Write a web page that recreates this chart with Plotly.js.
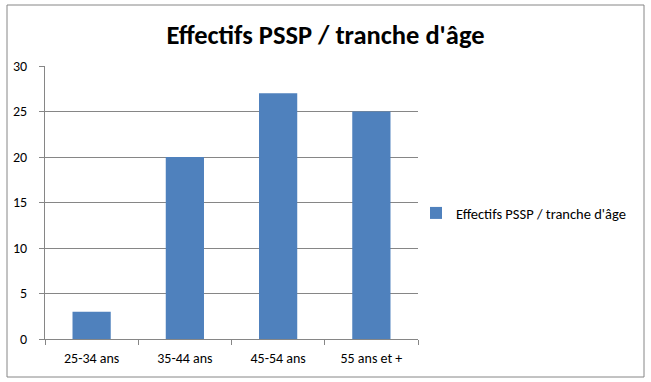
<!DOCTYPE html>
<html>
<head>
<meta charset="utf-8">
<script src="https://cdn.plot.ly/plotly-3.0.1.min.js"></script>
<style>html,body{margin:0;padding:0;background:#fff;}#chart{width:651px;height:382px;}</style>
</head>
<body>
<div id="chart"></div>
<script>
const categories = ["25-34 ans", "35-44 ans", "45-54 ans", "55 ans et +"];
const values = [3, 20, 27, 25];
const seriesName = "Effectifs PSSP / tranche d'âge";
const yTicks = [0, 5, 10, 15, 20, 25, 30];

const font = "Carlito, 'Liberation Sans Narrow', 'Noto Sans', sans-serif";
const L = 45, R = 418, T = 66, B = 339, W = 651, H = 382;
const pw = R - L, ph = B - T;
const px = v => (v - L) / pw;
const py = v => (B - v) / ph;

const data = [{
  type: 'bar',
  x: categories,
  y: values,
  name: seriesName,
  marker: {color: '#4F81BD'},
  showlegend: true
}];

const layout = {
  width: W, height: H,
  margin: {l: L, r: W - R, t: T, b: H - B, pad: 0},
  paper_bgcolor: '#fff', plot_bgcolor: '#fff',
  font: {family: font, size: 14, color: '#000'},
  bargap: 0.59,
  title: {text: "<b>Effectifs PSSP / tranche d'âge</b>", font: {family: font, size: 26.5, color: '#000'},
          x: 0.5, xref: 'container', xanchor: 'center', y: 1 - 35 / H, yref: 'container', yanchor: 'middle'},
  xaxis: {
    type: 'category', showline: true, linecolor: '#868686', linewidth: 1,
    ticks: 'outside', ticklen: 5, tickcolor: '#868686', tickson: 'boundaries',
    showgrid: false, tickfont: {family: font, size: 14, color: '#000'}, ticklabelstandoff: 6, fixedrange: true
  },
  yaxis: {
    range: [0, 30], tickvals: yTicks, showline: true, linecolor: '#868686', linewidth: 1,
    ticks: 'outside', ticklen: 5, tickcolor: '#868686', showgrid: true, gridcolor: '#868686', gridwidth: 1,
    zeroline: false, tickfont: {family: font, size: 14, color: '#000'}, ticklabelstandoff: 9, fixedrange: true
  },
  legend: {x: px(416), y: py(213), xanchor: 'left', yanchor: 'middle', font: {family: font, size: 14.5, color: '#000'},
           bgcolor: 'rgba(0,0,0,0)', itemwidth: 30},
  shapes: [{type: 'rect', xref: 'paper', yref: 'paper', x0: px(7), x1: px(644), y0: py(377), y1: py(5),
            line: {color: '#868686', width: 1}, fillcolor: 'rgba(0,0,0,0)', layer: 'below'}]
};

Plotly.newPlot('chart', data, layout, {displayModeBar: false, staticPlot: true});
</script>
</body>
</html>
